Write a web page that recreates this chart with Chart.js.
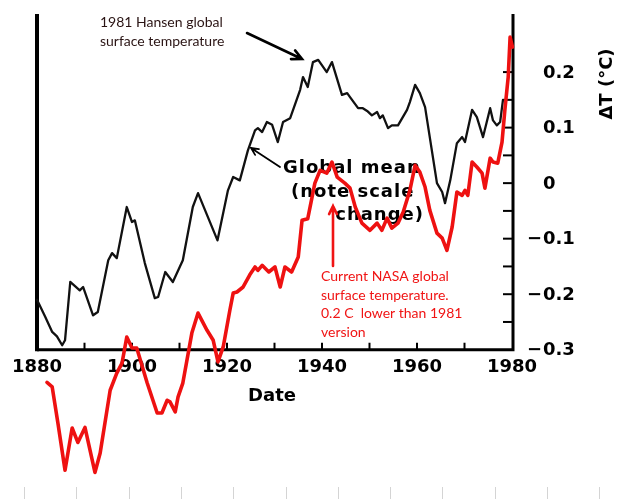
<!DOCTYPE html>
<html>
<head>
<meta charset="utf-8">
<script src="https://cdn.jsdelivr.net/npm/chart.js@4.4.1/dist/chart.umd.min.js"></script>
<style>
    html, body { margin: 0; padding: 0; background: #fff; }
    #wrap { width: 628px; height: 499px; }
</style>
</head>
<body>
<div id="wrap"><canvas id="grafico" width="628" height="499"></canvas></div>
<script>
// 1981 Hansen global surface temperature (black)
const hansenYears = [1880.0, 1881.7, 1883.2, 1884.2, 1885.3, 1885.9, 1887.0, 1889.0, 1889.7, 1891.8, 1892.8,
    1895.0, 1895.8, 1896.8, 1898.9, 1900.0, 1900.6, 1902.7, 1904.8, 1905.5, 1907.0, 1908.6, 1910.7, 1912.8,
    1913.9, 1918.0, 1920.2, 1921.3, 1922.7, 1924.4, 1925.9, 1926.5, 1927.4, 1928.4, 1929.5, 1930.7, 1931.8,
    1933.3, 1935.4, 1936.0, 1937.0, 1938.1, 1939.2, 1941.0, 1942.1, 1944.2, 1945.3, 1945.9, 1947.6, 1948.6,
    1949.5, 1950.5, 1951.6, 1952.2, 1952.8, 1953.9, 1954.7, 1956.0, 1957.9, 1958.5, 1959.6, 1960.6, 1961.7,
    1964.2, 1965.3, 1965.9, 1967.0, 1968.4, 1969.5, 1970.1, 1971.6, 1972.6, 1973.9, 1975.4, 1976.0, 1976.8,
    1977.5, 1978.1];
const hansenTemps = [-0.21, -0.24, -0.268, -0.276, -0.292, -0.283, -0.178, -0.193, -0.187, -0.238, -0.232,
    -0.139, -0.126, -0.135, -0.043, -0.070, -0.067, -0.144, -0.207, -0.205, -0.160, -0.178, -0.139, -0.043,
    -0.018, -0.103, -0.013, 0.011, 0.005, 0.059, 0.095, 0.099, 0.092, 0.110, 0.105, 0.074, 0.110,
    0.117, 0.168, 0.191, 0.173, 0.218, 0.222, 0.200, 0.218, 0.159, 0.162, 0.155, 0.135, 0.135,
    0.130, 0.122, 0.128, 0.117, 0.122, 0.099, 0.104, 0.104, 0.132, 0.146, 0.177, 0.162, 0.137,
    0.000, -0.016, -0.036, 0.005, 0.072, 0.083, 0.074, 0.132, 0.119, 0.083, 0.135, 0.113, 0.104,
    0.110, 0.150];

// Current NASA global surface temperature (red)
const nasaYears = [1882.1, 1883.2, 1884.4, 1885.9, 1887.4, 1888.6, 1890.1, 1892.2, 1893.3, 1895.4, 1896.8,
    1897.9, 1898.9, 1900.0, 1901.0, 1903.2, 1905.3, 1906.3, 1907.4, 1908.0, 1909.1, 1909.7, 1910.7, 1912.6,
    1913.9, 1915.8, 1917.1, 1918.1, 1919.2, 1920.6, 1921.3, 1922.1, 1923.4, 1924.8, 1925.9, 1926.5, 1927.4,
    1928.8, 1930.1, 1931.2, 1932.2, 1933.6, 1935.0, 1935.8, 1937.0, 1938.5, 1939.6, 1941.0, 1942.1, 1943.2,
    1944.8, 1945.9, 1947.0, 1948.4, 1950.1, 1951.6, 1952.6, 1953.7, 1954.7, 1956.0, 1957.1, 1958.5, 1959.6,
    1960.6, 1961.7, 1962.7, 1964.2, 1965.3, 1966.3, 1967.4, 1968.4, 1969.5, 1970.1, 1970.7, 1971.6, 1972.6,
    1973.7, 1974.3, 1975.4, 1976.0, 1977.0, 1977.9, 1978.5, 1979.2, 1979.6, 1980.1, 1980.3];
const nasaTemps = [-0.359, -0.367, -0.432, -0.517, -0.441, -0.467, -0.440, -0.521, -0.486, -0.373, -0.342,
    -0.324, -0.277, -0.297, -0.297, -0.360, -0.414, -0.414, -0.391, -0.394, -0.412, -0.385, -0.360, -0.270,
    -0.234, -0.265, -0.283, -0.322, -0.295, -0.229, -0.198, -0.196, -0.187, -0.165, -0.151, -0.157, -0.148,
    -0.160, -0.151, -0.187, -0.151, -0.160, -0.133, -0.067, -0.064, 0.000, 0.023, 0.018, 0.038, 0.011,
    0.000, -0.009, -0.043, -0.072, -0.085, -0.072, -0.085, -0.063, -0.081, -0.072, -0.052, -0.013, 0.032,
    0.020, -0.007, -0.049, -0.090, -0.099, -0.121, -0.079, -0.016, -0.022, -0.013, -0.022, 0.038, 0.029,
    0.018, -0.009, 0.045, 0.038, 0.036, 0.074, 0.132, 0.191, 0.263, 0.245, 0.295];

// eixos
const yearTicks = [1880, 1900, 1920, 1940, 1960, 1980];
const yearMinorTicks = [1890, 1900, 1910, 1920, 1930, 1940, 1950, 1960, 1970];
const tempTicks = [0.2, 0.1, 0, -0.1, -0.2, -0.3];
const tempMinorTicks = [0.2, 0.15, 0.1, 0.05, 0, -0.05, -0.1, -0.15, -0.2, -0.25];

function pts(xs, ys) {
    return xs.map((x, i) => ({ x: x, y: ys[i] }));
}

function arrow(ctx, x1, y1, x2, y2, head, color, width) {
    const a = Math.atan2(y2 - y1, x2 - x1);
    ctx.save();
    ctx.strokeStyle = color;
    ctx.lineWidth = width;
    ctx.lineCap = "round";
    ctx.beginPath();
    ctx.moveTo(x1, y1);
    ctx.lineTo(x2, y2);
    ctx.moveTo(x2 - head * Math.cos(a - 0.45), y2 - head * Math.sin(a - 0.45));
    ctx.lineTo(x2, y2);
    ctx.lineTo(x2 - head * Math.cos(a + 0.45), y2 - head * Math.sin(a + 0.45));
    ctx.stroke();
    ctx.restore();
}

// desenha moldura, ticks, rótulos e anotações
const decor = {
    id: "decor",
    beforeDatasetsDraw(chart) {
        const ctx = chart.ctx;
        const xs = chart.scales.x;
        const ys = chart.scales.y;
        const left = xs.getPixelForValue(1880);
        const right = xs.getPixelForValue(1980) + 1;
        const base = ys.getPixelForValue(-0.3);
        const top = 14;

        ctx.save();
        // marcas cinzas no rodapé
        ctx.strokeStyle = "#d4d4d4";
        ctx.lineWidth = 1;
        for (let gx = 24; gx < 628; gx += 52.3) {
            ctx.beginPath();
            ctx.moveTo(Math.round(gx) + 0.5, 487);
            ctx.lineTo(Math.round(gx) + 0.5, 499);
            ctx.stroke();
        }

        ctx.strokeStyle = "#000";
        ctx.lineWidth = 4;
        ctx.beginPath();
        ctx.moveTo(left, top);
        ctx.lineTo(left, base + 1.5);
        ctx.stroke();
        ctx.lineWidth = 3;
        ctx.beginPath();
        ctx.moveTo(left, base);
        ctx.lineTo(right, base);
        ctx.moveTo(right, base + 1.5);
        ctx.lineTo(right, top);
        ctx.stroke();

        ctx.lineWidth = 2;
        yearMinorTicks.forEach(yr => {
            const px = xs.getPixelForValue(yr);
            ctx.beginPath();
            ctx.moveTo(px, base);
            ctx.lineTo(px, base - 7);
            ctx.stroke();
        });
        tempMinorTicks.forEach(t => {
            const py = ys.getPixelForValue(t);
            ctx.beginPath();
            ctx.moveTo(right, py);
            ctx.lineTo(right - 10, py);
            ctx.stroke();
        });

        ctx.fillStyle = "#000";
        ctx.font = "bold 18px 'DejaVu Sans'";
        ctx.textAlign = "center";
        ctx.textBaseline = "middle";
        yearTicks.forEach(yr => {
            ctx.fillText(String(yr), xs.getPixelForValue(yr), base + 18);
        });
        ctx.fillText("Date", 272, 396);

        tempTicks.forEach(t => {
            const py = ys.getPixelForValue(t) + 1;
            ctx.textAlign = "left";
            ctx.fillText(String(Math.abs(t)), 543, py);
            if (t < 0) {
                ctx.textAlign = "right";
                ctx.fillText("\u2212", 542, py);
            }
        });

        ctx.save();
        ctx.translate(607, 84);
        ctx.rotate(-Math.PI / 2);
        ctx.textAlign = "center";
        ctx.fillText("\u0394T (\u00b0C)", 0, 0);
        ctx.restore();

        // Global mean (note scale change)
        ctx.font = "bold 18px 'DejaVu Sans'";
        ctx.letterSpacing = "1px";
        ctx.textAlign = "left";
        ctx.fillText("Global mean", 283, 168);
        ctx.fillText("(note scale", 291, 192);
        ctx.textAlign = "right";
        ctx.fillText("change)", 424, 215);
        ctx.letterSpacing = "0px";
        arrow(ctx, 280, 167, 251, 148, 8, "#000", 1.8);

        // rótulo da série de 1981
        ctx.font = "14px Lato";
        ctx.textAlign = "left";
        ctx.fillStyle = "#2a1414";
        ctx.fillText("1981 Hansen global", 100, 22);
        ctx.fillText("surface temperature", 100, 41);
        arrow(ctx, 247, 33, 302, 59, 11, "#000", 2.6);
        ctx.restore();
    },
    afterDatasetsDraw(chart) {
        const ctx = chart.ctx;
        ctx.save();
        ctx.fillStyle = "#f01414";
        ctx.font = "14px Lato";
        ctx.textAlign = "left";
        ctx.textBaseline = "middle";
        ctx.fillText("Current NASA global", 321, 276);
        ctx.fillText("surface temperature.", 321, 295);
        ctx.fillText("0.2 C  lower than 1981", 321, 313);
        ctx.fillText("version", 321, 332);
        arrow(ctx, 333, 266, 333, 206, 9, "#f01414", 2.6);
        ctx.restore();
    }
};

new Chart(document.getElementById("grafico"), {
    type: "line",
    data: {
        datasets: [{
            label: "Current NASA global surface temperature",
            data: pts(nasaYears, nasaTemps),
            borderColor: "#ee1111",
            borderWidth: 3.6,
            borderJoinStyle: "round",
            borderCapStyle: "round",
            pointRadius: 0,
            tension: 0,
            clip: false,
            order: 0
        }, {
            label: "1981 Hansen global surface temperature",
            data: pts(hansenYears, hansenTemps),
            borderColor: "#111111",
            borderWidth: 2.3,
            borderJoinStyle: "round",
            borderCapStyle: "round",
            pointRadius: 0,
            tension: 0,
            clip: false,
            order: 1
        }]
    },
    options: {
        responsive: false,
        animation: false,
        events: [],
        layout: { padding: { left: 37, right: 116, top: 11, bottom: 16 } },
        plugins: {
            legend: { display: false },
            tooltip: { enabled: false }
        },
        scales: {
            x: { type: "linear", min: 1880, max: 1980, display: false },
            y: { type: "linear", min: -0.54, max: 0.31, display: false }
        }
    },
    plugins: [decor]
});
</script>
</body>
</html>
